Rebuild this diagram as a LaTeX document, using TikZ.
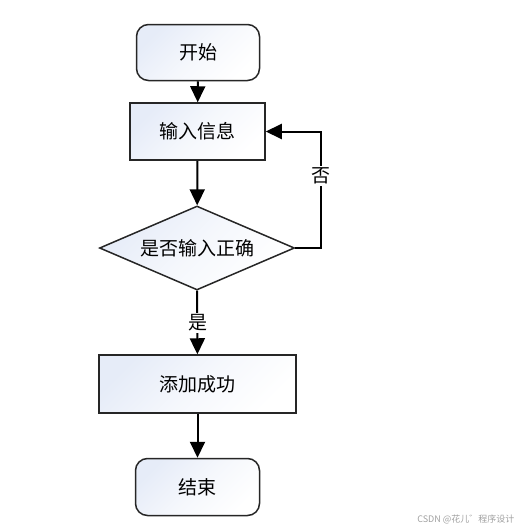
\documentclass[tikz,border=0pt]{standalone}
\usepackage{fontspec}
\setmainfont{Noto Sans CJK SC}
\usetikzlibrary{shapes.geometric,arrows.meta}
\definecolor{boxfill}{RGB}{230,236,248}
\definecolor{wmgray}{RGB}{160,160,160}
\tikzset{
  base/.style={draw=black!85, line width=1.5pt, top color=boxfill, bottom color=white, middle color=boxfill!40!white, shading angle=45,
    font=\fontsize{19}{21}\selectfont, inner sep=0pt, text=black},
  term/.style={base, rounded corners=12pt, minimum width=123pt, minimum height=56pt},
  proc/.style={base, minimum width=135pt, minimum height=57pt},
  decision/.style={base, diamond, aspect=2.3, minimum width=195pt, minimum height=84pt},
  flow/.style={line width=2pt, draw=black, -{Triangle[length=16pt,width=15pt]}},
  lbl/.style={fill=white, inner sep=2pt, font=\fontsize{19}{21}\selectfont}
}
\begin{document}
\begin{tikzpicture}[x=1pt,y=-1pt]
\useasboundingbox (0,0) rectangle (521,531);
\node[term] (start) at (198,52.5) {开始};
\node[proc] (input) at (197.5,131.5) {输入信息};
\node[decision] (dec) at (197,248) {是否输入正确};
\node[proc, minimum width=197pt, minimum height=58pt] (add) at (197.5,384) {添加成功};
\node[term, minimum width=124pt, minimum height=57pt] (end) at (197.5,487) {结束};
\coordinate (turn) at (321,131.5);
\draw[flow] (start) -- (input);
\draw[flow] (input) -- (dec);
\draw[flow] (dec) -- (add);
\draw[flow] (add) -- (end);
\draw[flow] (dec.east) -| (turn) -- (input.east);
\node[lbl] (no) at (321,176) {否};
\node[lbl] (yes) at (198,323) {是};
\node[font=\fontsize{9}{10}\selectfont, text=wmgray, anchor=east] (wm) at (518,519) {CSDN @花儿゛程序设计};
\end{tikzpicture}
\end{document}
